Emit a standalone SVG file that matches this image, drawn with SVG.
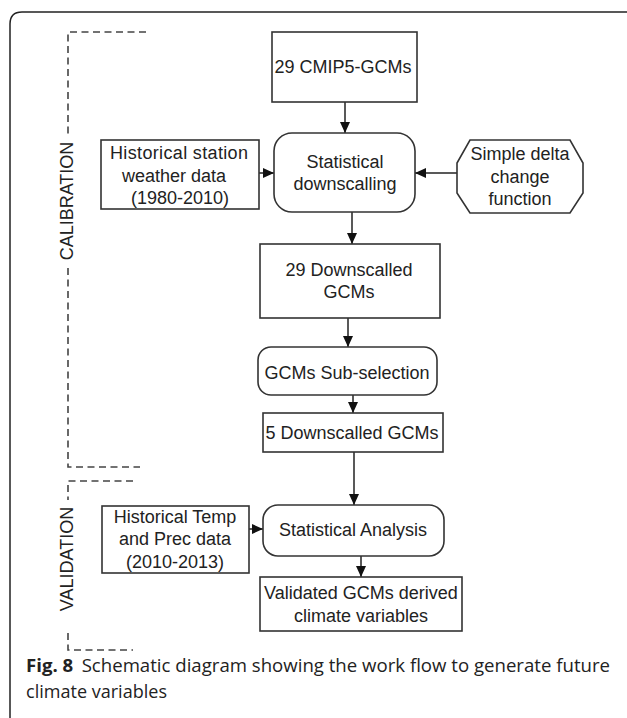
<svg xmlns="http://www.w3.org/2000/svg" width="627" height="718" viewBox="0 0 627 718">
<style>
.box{fill:#fff;stroke:#333;stroke-width:1.6}
.t{font-family:"Liberation Sans",Arial,sans-serif;font-size:18px;fill:#222;text-anchor:middle}
.c{stroke:#222;stroke-width:1.5;fill:none}
.d{stroke:#444;stroke-width:1.6;fill:none;stroke-dasharray:7 4.5}
.cap{font-family:"Open Sans","Noto Sans",sans-serif;font-size:17.5px;fill:#222}
</style>
<defs>
<marker id="ah" viewBox="0 0 11 10" refX="11" refY="5" markerWidth="11" markerHeight="10" markerUnits="userSpaceOnUse" orient="auto">
<path d="M0,0 L11,5 L0,10 z" fill="#111"/>
</marker>
</defs>
<rect width="627" height="718" fill="#fff"/>
<path d="M10,718 V24 Q10,12 22,12 H627" fill="none" stroke="#222" stroke-width="1.5"/>

<g id="calibration">
<path class="d" d="M146,32 H68 V137"/>
<path class="d" d="M68,268 V467 H140"/>
<text class="t" transform="translate(73,201) rotate(-90)">CALIBRATION</text>
</g>
<g id="validation">
<path class="d" d="M133,481 H68 V500"/>
<path class="d" d="M68,633 V650 H133"/>
<text class="t" transform="translate(73,559) rotate(-90)">VALIDATION</text>
</g>

<g id="connectors">
<path class="c" d="M345,102 V133" marker-end="url(#ah)"/>
<path class="c" d="M259,173 H274" marker-end="url(#ah)"/>
<path class="c" d="M457,173 H415" marker-end="url(#ah)"/>
<path class="c" d="M352,212 V244" marker-end="url(#ah)"/>
<path class="c" d="M348,318 V347" marker-end="url(#ah)"/>
<path class="c" d="M353,395 V413" marker-end="url(#ah)"/>
<path class="c" d="M354,452 V505" marker-end="url(#ah)"/>
<path class="c" d="M249,529 H263" marker-end="url(#ah)"/>
<path class="c" d="M361,556 V577" marker-end="url(#ah)"/>
</g>

<g id="cmip5">
<rect class="box" x="272" y="32" width="145" height="70"/>
<text class="t" x="343" y="73">29 CMIP5-GCMs</text>
</g>
<g id="downscaling">
<rect class="box" x="274" y="133" width="141" height="79" rx="18"/>
<text class="t" x="345" y="168">Statistical</text>
<text class="t" x="345" y="190">downscalling</text>
</g>
<g id="hist-station">
<rect class="box" x="101" y="140" width="158" height="69"/>
<text class="t" x="179" y="159" textLength="138" lengthAdjust="spacing">Historical station</text>
<text class="t" x="174" y="182">weather data</text>
<text class="t" x="180" y="204">(1980-2010)</text>
</g>
<g id="delta">
<polygon class="box" points="470,140 570,140 583,163 583,193 570,213 470,213 457,193 457,163"/>
<text class="t" x="520" y="160">Simple delta</text>
<text class="t" x="520" y="183">change</text>
<text class="t" x="520" y="205">function</text>
</g>
<g id="downscaled29">
<rect class="box" x="260" y="244" width="180" height="74"/>
<text class="t" x="349" y="276">29 Downscalled</text>
<text class="t" x="349" y="298">GCMs</text>
</g>
<g id="subselection">
<rect class="box" x="258" y="347" width="179" height="48" rx="13"/>
<text class="t" x="347" y="379">GCMs Sub-selection</text>
</g>
<g id="downscaled5">
<rect class="box" x="263" y="413" width="180" height="39"/>
<text class="t" x="352" y="439">5 Downscalled GCMs</text>
</g>
<g id="hist-temp">
<rect class="box" x="102" y="506" width="147" height="67"/>
<text class="t" x="175" y="523">Historical Temp</text>
<text class="t" x="175" y="545">and Prec data</text>
<text class="t" x="175" y="568">(2010-2013)</text>
</g>
<g id="analysis">
<rect class="box" x="263" y="505" width="181" height="51" rx="15"/>
<text class="t" x="353" y="536">Statistical Analysis</text>
</g>
<g id="validated">
<rect class="box" x="260" y="577" width="202" height="54"/>
<text class="t" x="361" y="599">Validated GCMs derived</text>
<text class="t" x="361" y="622">climate variables</text>
</g>

<g id="caption">
<text class="cap" x="26" y="672" textLength="584" lengthAdjust="spacingAndGlyphs"><tspan font-weight="bold">Fig. 8</tspan><tspan dx="8">Schematic diagram showing the work flow to generate future</tspan></text>
<text class="cap" x="26" y="698" textLength="141" lengthAdjust="spacingAndGlyphs">climate variables</text>
</g>
</svg>
